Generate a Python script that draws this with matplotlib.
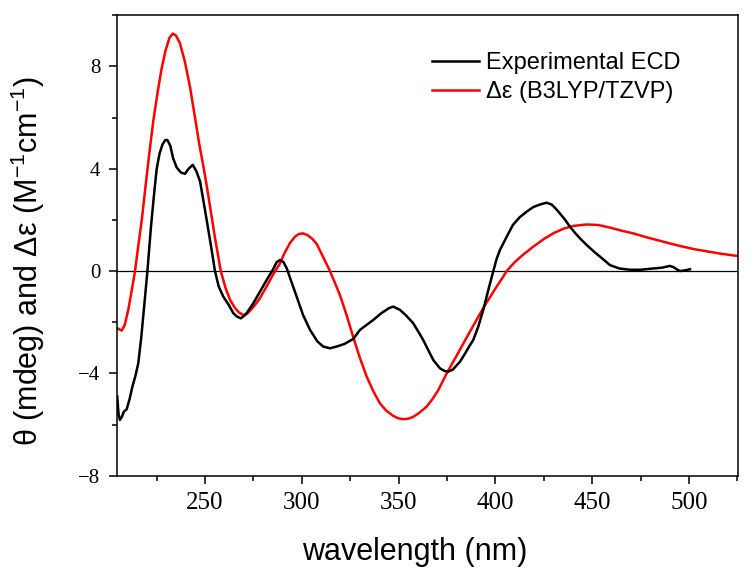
import numpy as np
import matplotlib
matplotlib.use("Agg")
import matplotlib.pyplot as plt
from matplotlib.ticker import MultipleLocator

# Experimental ECD (black)
exp_wl = [204.6, 205.3, 206.0, 207.0, 208.0, 209.5, 211.0, 212.5, 214.0, 215.5,
          217.0, 218.5, 220.2, 222.0, 223.5, 225.0, 226.5, 228.0, 229.5, 230.5,
          232.0, 233.5, 235.3, 237.5, 239.6, 241.5, 243.6, 245.5, 247.4, 249.0,
          250.8, 253.0, 255.1, 257.0, 259.4, 262.0, 264.6, 266.5, 268.4, 271.0,
          274.9, 278.0, 281.8, 285.0, 287.0, 288.7, 290.5, 292.2, 294.5, 297.3,
          300.5, 304.2, 308.0, 311.0, 314.5, 318.0, 322.0, 326.6, 330.0, 336.9,
          341.0, 345.0, 347.2, 350.7, 354.0, 357.5, 360.0, 362.7, 365.0, 367.9,
          371.3, 373.5, 375.6, 378.0, 381.7, 384.5, 386.8, 388.5, 391.0, 393.7,
          396.3, 398.9, 400.5, 402.3, 405.8, 409.0, 412.5, 416.1, 419.5, 423.0,
          426.4, 429.0, 431.0, 433.3, 436.0, 438.5, 441.0, 444.0, 447.1, 451.0,
          455.0, 459.2, 464.0, 469.5, 475.0, 481.5, 486.0, 490.1, 492.0, 494.0,
          495.3, 497.5, 500.5]
exp_val = [-4.9, -5.6, -5.82, -5.7, -5.5, -5.4, -5.0, -4.5, -4.1, -3.6,
           -2.6, -1.4, 0.0, 1.7, 2.9, 4.0, 4.6, 4.95, 5.12, 5.12,
           4.9, 4.4, 4.05, 3.85, 3.8, 4.0, 4.15, 3.9, 3.5, 2.8,
           2.0, 1.0, 0.0, -0.6, -1.0, -1.3, -1.65, -1.78, -1.85, -1.7,
           -1.26, -0.85, -0.35, 0.05, 0.35, 0.43, 0.35, 0.1, -0.4, -1.0,
           -1.7, -2.3, -2.75, -2.95, -3.02, -2.95, -2.85, -2.65, -2.3, -1.91,
           -1.65, -1.45, -1.39, -1.52, -1.75, -2.04, -2.35, -2.7, -3.05, -3.48,
           -3.8, -3.9, -3.93, -3.85, -3.54, -3.2, -2.9, -2.7, -2.2, -1.52,
           -0.74, 0.0, 0.45, 0.82, 1.34, 1.8, 2.1, 2.32, 2.5, 2.6,
           2.67, 2.6, 2.45, 2.25, 2.0, 1.73, 1.5, 1.25, 1.02, 0.75,
           0.5, 0.23, 0.1, 0.05, 0.05, 0.1, 0.13, 0.2, 0.15, 0.05,
           0.0, 0.02, 0.07]

# Calculated spectrum B3LYP/TZVP (red)
calc_wl = [204.5, 206.9, 208.5, 210.3, 212.0, 213.8, 215.5, 217.3, 219.5, 221.5,
           223.3, 225.5, 227.5, 229.5, 231.5, 233.3, 235.0, 237.0, 239.5, 242.2,
           245.0, 247.0, 249.1, 250.8, 252.5, 255.0, 258.1, 260.5, 262.9, 265.5,
           267.5, 269.7, 272.0, 275.0, 278.0, 281.8, 285.0, 288.7, 291.0, 293.9,
           296.5, 298.5, 300.7, 303.0, 305.5, 307.7, 310.5, 314.2, 317.0, 319.7,
           323.0, 326.6, 330.0, 333.5, 336.9, 340.3, 343.5, 347.0, 349.5, 352.4,
           355.0, 357.5, 360.5, 364.4, 367.5, 370.5, 374.8, 380.0, 385.1, 390.3,
           394.6, 398.0, 400.6, 403.5, 405.8, 410.0, 414.0, 419.5, 425.0, 430.0,
           435.0, 440.0, 447.1, 453.0, 459.0, 465.0, 471.2, 478.0, 485.0, 491.0,
           497.0, 503.0, 510.0, 517.0, 525.0]
calc_val = [-2.23, -2.33, -2.1, -1.52, -0.8, 0.0, 1.0, 2.0, 3.5, 4.8,
            5.9, 7.0, 7.9, 8.6, 9.1, 9.28, 9.2, 8.9, 8.2, 7.2,
            5.9, 4.95, 4.1, 3.35, 2.55, 1.35, 0.0, -0.65, -1.13, -1.45,
            -1.62, -1.72, -1.65, -1.4, -1.1, -0.6, -0.15, 0.3, 0.7, 1.1,
            1.35, 1.45, 1.47, 1.4, 1.25, 1.05, 0.62, 0.05, -0.45, -0.95,
            -1.7, -2.6, -3.4, -4.13, -4.7, -5.17, -5.45, -5.65, -5.75, -5.79,
            -5.77, -5.7, -5.55, -5.3, -5.0, -4.65, -4.0, -3.3, -2.6, -1.9,
            -1.33, -0.92, -0.61, -0.28, 0.0, 0.35, 0.62, 0.95, 1.25, 1.48,
            1.65, 1.76, 1.82, 1.8, 1.7, 1.58, 1.47, 1.32, 1.18, 1.06,
            0.95, 0.85, 0.76, 0.67, 0.59]

x_ticks = [250, 300, 350, 400, 450, 500]
y_ticks = [-8, -4, 0, 4, 8]

plt.rcParams["mathtext.fontset"] = "custom"
plt.rcParams["mathtext.rm"] = "Liberation Sans"
plt.rcParams["mathtext.default"] = "regular"

fig = plt.figure(figsize=(7.55, 5.83), dpi=100)
ax = fig.add_axes([0.155, 0.184, 0.8225, 0.790])

ax.axhline(0, color="black", linewidth=0.9, zorder=1)
ax.plot(exp_wl, exp_val, color="black", linewidth=1.8, label="Experimental ECD", zorder=3)
ax.plot(calc_wl, calc_val, color="#ff0000", linewidth=1.8, label="Δε (B3LYP/TZVP)", zorder=2)

ax.set_xlim(204.5, 525.3)
ax.set_ylim(-8, 10)
ax.set_xticks(x_ticks)
ax.set_yticks(y_ticks)
ax.xaxis.set_minor_locator(MultipleLocator(25))
ax.yaxis.set_minor_locator(MultipleLocator(2))

for s in ax.spines.values():
    s.set_linewidth(1.1)

ax.tick_params(which="major", direction="out", length=6, width=1.1, pad=6)
ax.tick_params(which="minor", direction="out", length=3.5, width=1.1)
ax.tick_params(axis="x", labelsize=18)
ax.tick_params(axis="y", labelsize=15)
for lbl in ax.get_xticklabels() + ax.get_yticklabels():
    lbl.set_fontfamily("Liberation Serif")

ax.set_xlabel("wavelength (nm)", fontsize=22, fontfamily="Liberation Sans")
ax.set_ylabel("θ (mdeg) and Δε (M$^{-1}$cm$^{-1}$)", fontsize=22, fontfamily="Liberation Sans")
ax.xaxis.set_label_coords(0.48, -0.133)
ax.yaxis.set_label_coords(-0.112, 0.466)

ax.legend(loc="upper left", bbox_to_anchor=(0.507, 0.92), frameon=False,
          prop={"family": "Liberation Sans", "size": 17},
          handlelength=2.0, handletextpad=0.3, labelspacing=0.3,
          borderpad=0, borderaxespad=0)

fig.savefig("out.png", dpi=100)
